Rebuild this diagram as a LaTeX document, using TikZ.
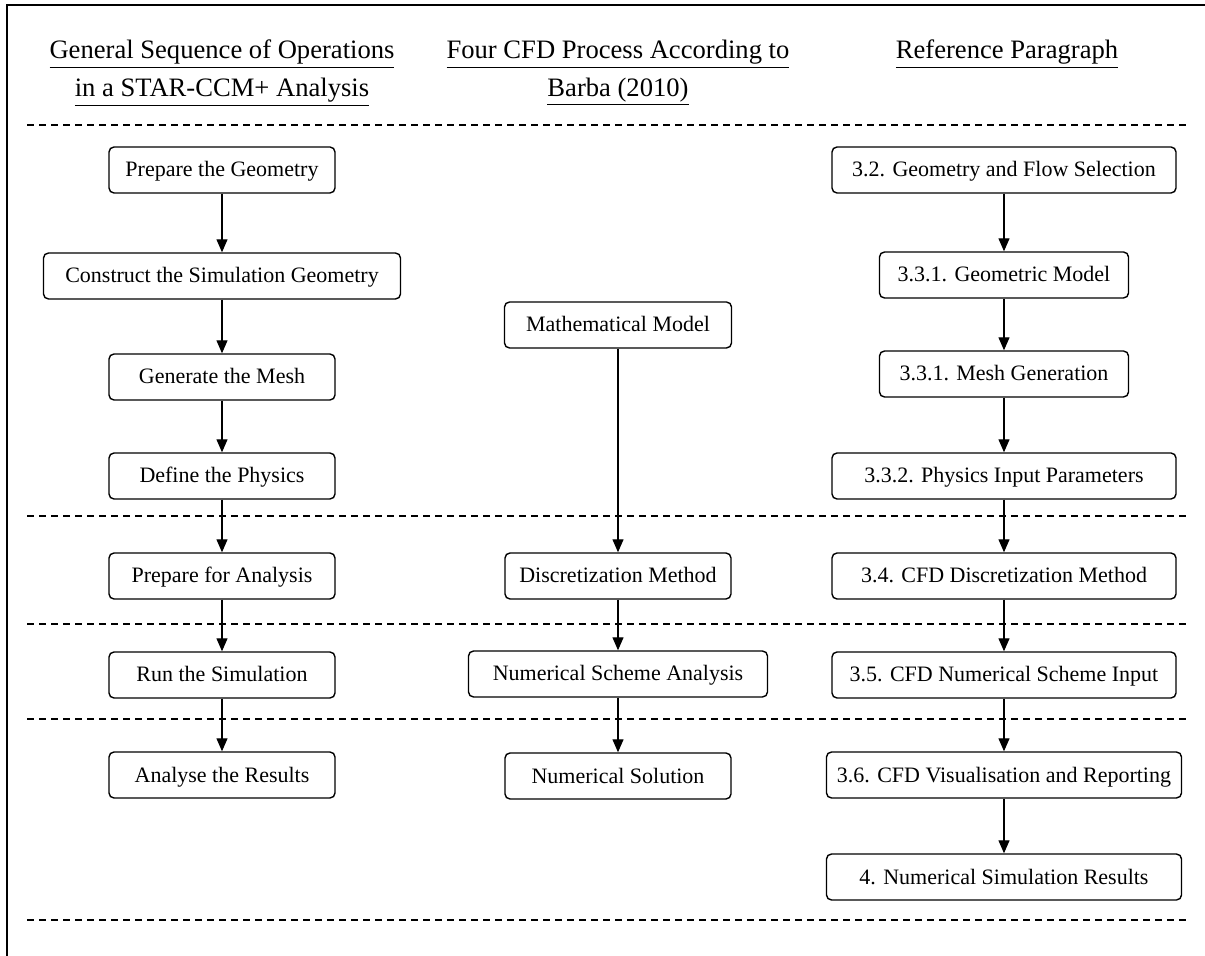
\documentclass[tikz,border=0pt]{standalone}
\usepackage{fontspec}
\setmainfont{Liberation Serif}
\usetikzlibrary{arrows.meta}
\tikzset{stepbox/.style={draw, rounded corners=2.5pt, line width=0.7pt, minimum height=23pt, inner sep=0, text height=8pt, text depth=1pt, font=\fontsize{11}{13}\selectfont}}
\tikzset{flow/.style={-{Triangle[width=5.5pt,length=6.5pt]}, line width=0.6pt}}
\tikzset{sepline/.style={dash pattern=on 3.5pt off 2.5pt, line width=0.6pt}}
\tikzset{head/.style={align=center, font=\fontsize{13.3}{19}\selectfont}}

\begin{document}
\begin{tikzpicture}[x=0.5pt, y=-0.5pt]
    \useasboundingbox (0, 0) rectangle (1205, 956);
    \draw[line width=1pt] (7, 956) -- (7, 5) -- (1205, 5);

    % column headings
    \node[head] at (222, 73) (hA) {\underline{General Sequence of Operations}\\\underline{in a STAR-CCM+ Analysis}};
    \node[head] at (618, 73) (hB) {\underline{Four CFD Process According to}\\\underline{Barba (2010)}};
    \node[head] at (1007, 54) (hC) {\underline{Reference Paragraph}};

    % separators
    \draw[sepline] (27, 125) -- (1190, 125);
    \draw[sepline] (27, 516) -- (1190, 516);
    \draw[sepline] (27, 624) -- (1190, 624);
    \draw[sepline] (27, 719) -- (1190, 719);
    \draw[sepline] (27, 920) -- (1190, 920);

    % STAR-CCM+ sequence
    \node[stepbox, minimum width=113pt] at (222, 170) (geom) {Prepare the Geometry};
    \node[stepbox, minimum width=178.5pt] at (222, 276) (simgeom) {Construct the Simulation Geometry};
    \node[stepbox, minimum width=113pt] at (222, 377) (mesh) {Generate the Mesh};
    \node[stepbox, minimum width=113pt] at (222, 476) (phys) {Define the Physics};
    \node[stepbox, minimum width=113pt] at (222, 576) (prep) {Prepare for Analysis};
    \node[stepbox, minimum width=113pt] at (222, 675) (run) {Run the Simulation};
    \node[stepbox, minimum width=113pt] at (222, 775) (results) {Analyse the Results};

    \draw[flow] (geom) -- (simgeom);
    \draw[flow] (simgeom) -- (mesh);
    \draw[flow] (mesh) -- (phys);
    \draw[flow] (phys) -- (prep);
    \draw[flow] (prep) -- (run);
    \draw[flow] (run) -- (results);

    % Barba (2010)
    \node[stepbox, minimum width=113.5pt] at (618, 325) (math) {Mathematical Model};
    \node[stepbox, minimum width=113pt] at (618, 576) (discr) {Discretization Method};
    \node[stepbox, minimum width=149.5pt] at (618, 674) (scheme) {Numerical Scheme Analysis};
    \node[stepbox, minimum width=113pt] at (618, 776) (sol) {Numerical Solution};

    \draw[flow] (math) -- (discr);
    \draw[flow] (discr) -- (scheme);
    \draw[flow] (scheme) -- (sol);

    % reference paragraphs
    \node[stepbox, minimum width=172pt] at (1004, 170) (secA) {3.2. Geometry and Flow Selection};
    \node[stepbox, minimum width=124.5pt] at (1004, 275) (secB) {3.3.1. Geometric Model};
    \node[stepbox, minimum width=124.5pt] at (1004, 374) (secC) {3.3.1. Mesh Generation};
    \node[stepbox, minimum width=172pt] at (1004, 476) (secD) {3.3.2. Physics Input Parameters};
    \node[stepbox, minimum width=172pt] at (1004, 576) (secE) {3.4. CFD Discretization Method};
    \node[stepbox, minimum width=172pt] at (1004, 675) (secF) {3.5. CFD Numerical Scheme Input};
    \node[stepbox, minimum width=177.5pt] at (1004, 775) (secG) {3.6. CFD Visualisation and Reporting};
    \node[stepbox, minimum width=177.5pt] at (1004, 877) (secH) {4. Numerical Simulation Results};

    \draw[flow] (secA) -- (secB);
    \draw[flow] (secB) -- (secC);
    \draw[flow] (secC) -- (secD);
    \draw[flow] (secD) -- (secE);
    \draw[flow] (secE) -- (secF);
    \draw[flow] (secF) -- (secG);
    \draw[flow] (secG) -- (secH);
\end{tikzpicture}
\end{document}
